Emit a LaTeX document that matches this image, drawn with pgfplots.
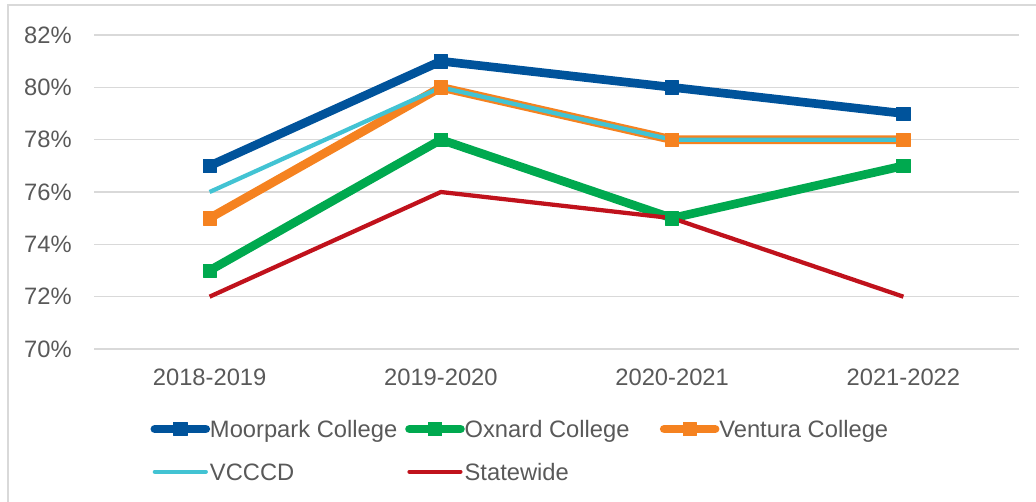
\documentclass[border=0pt]{standalone}
\usepackage{fontspec}
\setmainfont{Liberation Sans}
\usepackage{pgfplots}
\pgfplotsset{compat=1.18}
\definecolor{moor}{HTML}{00539B}
\definecolor{oxn}{HTML}{00A94F}
\definecolor{ven}{HTML}{F58220}
\definecolor{vcc}{HTML}{42C3D3}
\definecolor{state}{HTML}{C0121C}
\definecolor{txt}{HTML}{595959}
\definecolor{gridc}{HTML}{D9D9D9}
\begin{document}
\begin{tikzpicture}
\useasboundingbox (0pt,0pt) rectangle (777pt,375.75pt);
\draw[color=gridc, line width=1.2pt] (6pt,-5pt) -- (6pt,372pt) -- (800pt,372pt);
\begin{axis}[
  at={(70.5pt,114pt)}, anchor=south west,
  scale only axis, width=693.75pt, height=235.5pt,
  xmin=-0.5, xmax=3.5, ymin=70, ymax=82,
  axis line style={draw=none},
  major tick length=0pt,
  xtick={0,1,2,3},
  xticklabels={2018-2019,2019-2020,2020-2021,2021-2022},
  ytick={70,72,74,76,78,80,82},
  yticklabels={70\%,72\%,74\%,76\%,78\%,80\%,82\%},
  ymajorgrids, grid style={color=gridc, line width=1.1pt},
  tick label style={font=\fontsize{17.8}{20}\selectfont, text=txt},
  yticklabel style={anchor=east, inner sep=0pt, xshift=-16.5pt},
  xticklabel style={anchor=north, inner sep=0pt, yshift=-14.6pt},
  legend columns=3,
  legend style={at={(axis description cs:0.0562,-0.2277)}, anchor=north west,
    draw=none, fill=none, inner sep=0pt, outer sep=0pt,
    font=\fontsize{17.8}{20}\selectfont, text=txt,
    nodes={inner sep=0pt, text height=12.8pt, text depth=0pt},
    row sep=19.2pt,
    /tikz/every odd column/.style={column sep=-3.5pt},
    /tikz/every even column/.style={column sep=0pt}},
  legend cell align=left,
  legend image code/.code={
    \path (0pt,0pt) (45pt,0pt);
    \draw[mark repeat=2, mark phase=2, line cap=round, #1]
      plot coordinates {(3.4pt,0pt)(22.5pt,0pt)(41.6pt,0pt)};
  },
  every axis plot/.append style={line join=round},
]
\addplot[color=moor, line width=6.5pt, mark=square*, mark size=5pt, mark options={solid, line width=0.5pt, fill=moor}]
  coordinates {(0,77)(1,81)(2,80)(3,79)};
\addlegendentry{\makebox[143pt][l]{Moorpark College}}
\addplot[color=oxn, line width=6.5pt, mark=square*, mark size=5pt, mark options={solid, line width=0.5pt, fill=oxn}]
  coordinates {(0,73)(1,78)(2,75)(3,77)};
\addlegendentry{\makebox[143pt][l]{Oxnard College}}
\addplot[color=ven, line width=6.5pt, mark=square*, mark size=5pt, mark options={solid, line width=0.5pt, fill=ven}]
  coordinates {(0,75)(1,80)(2,78)(3,78)};
\addlegendentry{\makebox[143pt][l]{Ventura College}}
\addplot[color=vcc, line width=3.2pt, mark=none]
  coordinates {(0,76)(1,80)(2,78)(3,78)};
\addlegendentry{\makebox[143pt][l]{VCCCD}}
\addplot[color=state, line width=3.2pt, mark=none]
  coordinates {(0,72)(1,76)(2,75)(3,72)};
\addlegendentry{\makebox[143pt][l]{Statewide}}
\end{axis}
\end{tikzpicture}
\end{document}
